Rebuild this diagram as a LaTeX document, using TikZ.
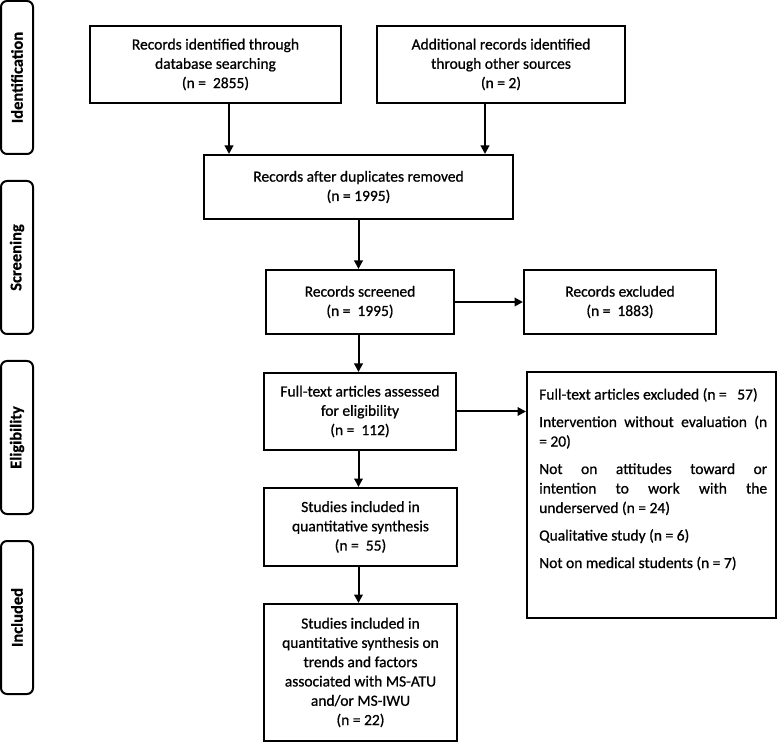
\documentclass[tikz,border=0pt]{standalone}
\usepackage{fontspec}
\setmainfont{Carlito}[FakeBold=0.8]
\newfontfamily\sidefont{Carlito}[BoldFont={Carlito Bold}, BoldFeatures={FakeBold=0.6}]
\usetikzlibrary{arrows.meta}
\begin{document}
\begin{tikzpicture}[x=1pt,y=-1pt,
  box/.style={draw, line width=2pt, inner sep=0pt, align=center, font=\fontsize{15.5}{19.3}\selectfont},
  side/.style={draw, line width=2pt, rounded corners=6pt, inner sep=0pt, rotate=90, minimum width=153pt, minimum height=32pt, font=\fontsize{16.5}{20}\sidefont\bfseries},
  arr/.style={line width=2pt, -{Triangle[length=8.5pt,width=8.5pt]}}]
\useasboundingbox (0,0) rectangle (777,743);

% phase labels
\node[side] (s1) at (17,77.5) {Identification};
\node[side] (s2) at (17,257.5) {Screening};
\node[side] (s3) at (17,437.5) {Eligibility};
\node[side] (s4) at (17,617.5) {Included};

% boxes
\node[box, minimum width=251pt, minimum height=77pt] (b1) at (215.5,64.5) {Records identified through\\database searching\\(n =~~2855)};
\node[box, minimum width=248pt, minimum height=77pt] (b2) at (501,64.5) {Additional records identified\\through other sources\\(n = 2)};
\node[box, minimum width=309pt, minimum height=64pt] (b3) at (358.5,187) {Records after duplicates removed\\(n = 1995)};
\node[box, minimum width=188pt, minimum height=64pt] (b4) at (360,302) {Records screened\\(n =~~1995)};
\node[box, minimum width=192pt, minimum height=64pt] (b4x) at (620,302) {Records excluded\\(n =~~1883)};
\node[box, minimum width=192pt, minimum height=77pt] (b5) at (360,411.5) {Full-text articles assessed\\for eligibility\\(n =~~112)};
\node[box, minimum width=193pt, minimum height=78pt] (b6) at (360.5,527) {Studies included in\\quantitative synthesis\\(n =~~55)};
\node[box, minimum width=193pt, minimum height=137pt] (b7) at (360.5,672.5) {Studies included in\\quantitative synthesis on\\trends and factors\\associated with MS-ATU\\and/or MS-IWU\\(n = 22)};
\node[draw, line width=2pt, minimum width=249pt, minimum height=246pt, inner sep=0pt] (ex2) at (651.5,495) {};
\node[anchor=north west, inner sep=0pt, text width=228pt, align=justify, font=\fontsize{15.5}{19.5}\selectfont] (ex2t) at (539,388) {\setlength{\parskip}{8pt}\hyphenpenalty=10000\tolerance=10000
Full-text articles excluded (n =~~~57)\par
Intervention without evaluation (n\linebreak = 20)\par
Not on attitudes toward or\linebreak intention to work with the\linebreak underserved (n = 24)\par
Qualitative study (n = 6)\par
Not on medical students (n = 7)};

% connectors
\coordinate (c1) at (229,0);
\coordinate (c2) at (485,0);
\coordinate (c3) at (358.5,0);
\draw[arr] (b1.south -| c1) -- (b3.north -| c1);
\draw[arr] (b2.south -| c2) -- (b3.north -| c2);
\draw[arr] (b3.south -| c3) -- (b4.north -| c3);
\draw[arr] (b4.east) -- (b4x.west);
\draw[arr] (b4.south -| c3) -- (b5.north -| c3);
\draw[arr] (b5.east) -- (b5.east -| ex2.west);
\draw[arr] (b5.south -| c3) -- (b6.north -| c3);
\draw[arr] (b6.south -| c3) -- (b7.north -| c3);
\end{tikzpicture}
\end{document}
